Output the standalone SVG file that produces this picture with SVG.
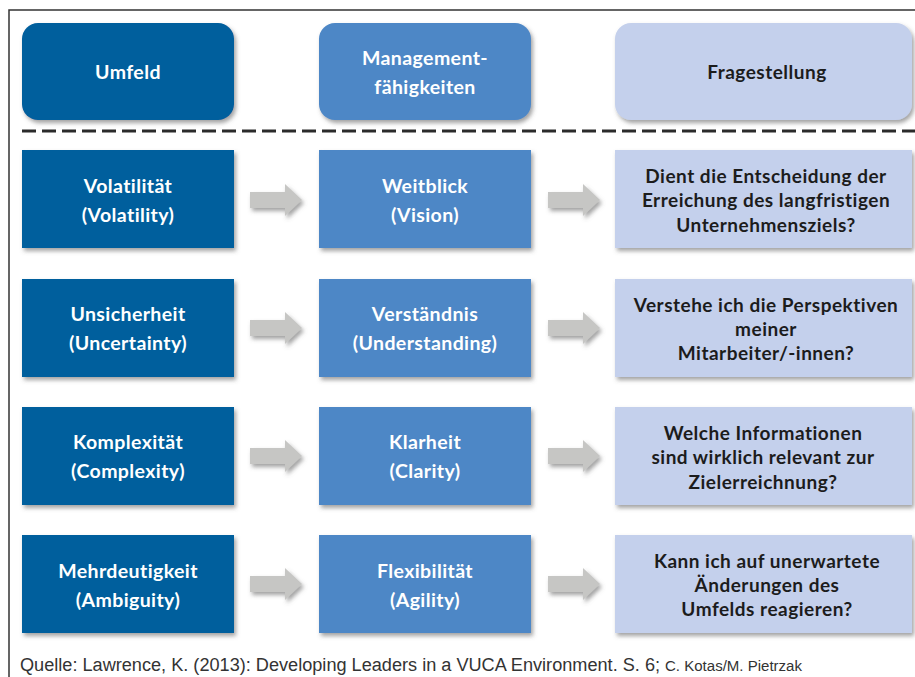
<svg xmlns="http://www.w3.org/2000/svg" width="915" height="677" viewBox="0 0 915 677">
  <defs>
    <filter id="shadow" x="-10%" y="-10%" width="125%" height="130%">
      <feDropShadow dx="2" dy="3" stdDeviation="2" flood-color="#555" flood-opacity="0.55"/>
    </filter>
    <filter id="arrowShadow" x="-20%" y="-20%" width="150%" height="160%">
      <feDropShadow dx="2" dy="3" stdDeviation="2" flood-color="#666" flood-opacity="0.6"/>
    </filter>
    <path id="arrow" d="M0,-8 H35 V-16 L52,0 L35,16 V8 H0 Z"/>
  </defs>
  <style>
    .dark { fill: #005f9d; }
    .mid { fill: #4d87c6; }
    .light { fill: #c4d0ec; }
    .box { filter: url(#shadow); }
    .t { font-family: Lato, "Open Sans", "Liberation Sans", sans-serif; font-weight: bold; text-anchor: middle; }
    .w { fill: #ffffff; font-size: 19.5px; letter-spacing: 0.4px; }
    .k { fill: #1c1c1c; font-size: 19px; letter-spacing: 0.5px; }
    .arr { fill: #c6c6c4; filter: url(#arrowShadow); }
    .frame { stroke: #333; stroke-width: 1.5; fill: none; }
    .sep { stroke: #2b2b2b; stroke-width: 3; stroke-dasharray: 14 6; }
    .src { font-family: "Liberation Sans", Arial, sans-serif; fill: #333; }
  </style>

  <rect width="915" height="677" fill="#ffffff"/>

  <!-- outer frame (top and left edges) -->
  <path class="frame" d="M9,677 V10 H915"/>

  <!-- column headers -->
  <g id="head-umfeld">
    <rect class="box dark" x="22" y="23" width="212" height="97" rx="16"/>
    <text class="t w" x="128" y="79">Umfeld</text>
  </g>
  <g id="head-management">
    <rect class="box mid" x="319" y="23" width="212" height="97" rx="16"/>
    <text class="t w" x="425" y="65">Management-</text>
    <text class="t w" x="425" y="94">fähigkeiten</text>
  </g>
  <g id="head-frage">
    <rect class="box light" x="615" y="23" width="297" height="97" rx="16"/>
    <text class="t k" x="767" y="79">Fragestellung</text>
  </g>

  <!-- separator -->
  <line class="sep" x1="22" y1="131" x2="915" y2="131"/>

  <!-- row 1 -->
  <g id="volatility">
    <rect class="box dark" x="22" y="150" width="212" height="98"/>
    <text class="t w" x="128" y="193">Volatilität</text>
    <text class="t w" x="128" y="222">(Volatility)</text>
  </g>
  <g id="vision">
    <rect class="box mid" x="319" y="150" width="212" height="98"/>
    <text class="t w" x="425" y="193">Weitblick</text>
    <text class="t w" x="425" y="222">(Vision)</text>
  </g>
  <g id="q-vision">
    <rect class="box light" x="615" y="150" width="297" height="98"/>
    <text class="t k" x="766" y="183">Dient die Entscheidung der</text>
    <text class="t k" x="766" y="207">Erreichung des langfristigen</text>
    <text class="t k" x="766" y="232">Unternehmensziels?</text>
  </g>

  <!-- row 2 -->
  <g id="uncertainty">
    <rect class="box dark" x="22" y="279" width="212" height="98"/>
    <text class="t w" x="128" y="321">Unsicherheit</text>
    <text class="t w" x="128" y="350">(Uncertainty)</text>
  </g>
  <g id="understanding">
    <rect class="box mid" x="319" y="279" width="212" height="98"/>
    <text class="t w" x="425" y="321">Verständnis</text>
    <text class="t w" x="425" y="350">(Understanding)</text>
  </g>
  <g id="q-understanding">
    <rect class="box light" x="615" y="279" width="297" height="98"/>
    <text class="t k" x="766" y="312">Verstehe ich die Perspektiven</text>
    <text class="t k" x="766" y="336">meiner</text>
    <text class="t k" x="766" y="360">Mitarbeiter/-innen?</text>
  </g>

  <!-- row 3 -->
  <g id="complexity">
    <rect class="box dark" x="22" y="407" width="212" height="98"/>
    <text class="t w" x="128" y="449">Komplexität</text>
    <text class="t w" x="128" y="478">(Complexity)</text>
  </g>
  <g id="clarity">
    <rect class="box mid" x="319" y="407" width="212" height="98"/>
    <text class="t w" x="425" y="449">Klarheit</text>
    <text class="t w" x="425" y="478">(Clarity)</text>
  </g>
  <g id="q-clarity">
    <rect class="box light" x="615" y="407" width="297" height="98"/>
    <text class="t k" x="763" y="440">Welche Informationen</text>
    <text class="t k" x="763" y="464">sind wirklich relevant zur</text>
    <text class="t k" x="763" y="489">Zielerreichnung?</text>
  </g>

  <!-- row 4 -->
  <g id="ambiguity">
    <rect class="box dark" x="22" y="535" width="212" height="98"/>
    <text class="t w" x="128" y="578">Mehrdeutigkeit</text>
    <text class="t w" x="128" y="607">(Ambiguity)</text>
  </g>
  <g id="agility">
    <rect class="box mid" x="319" y="535" width="212" height="98"/>
    <text class="t w" x="425" y="578">Flexibilität</text>
    <text class="t w" x="425" y="607">(Agility)</text>
  </g>
  <g id="q-agility">
    <rect class="box light" x="615" y="535" width="297" height="98"/>
    <text class="t k" x="767" y="568">Kann ich auf unerwartete</text>
    <text class="t k" x="767" y="592">Änderungen des</text>
    <text class="t k" x="767" y="616">Umfelds reagieren?</text>
  </g>

  <!-- connectors -->
  <g id="connectors">
    <use href="#arrow" class="arr" x="250" y="200"/>
    <use href="#arrow" class="arr" x="548" y="200"/>
    <use href="#arrow" class="arr" x="250" y="328"/>
    <use href="#arrow" class="arr" x="548" y="328"/>
    <use href="#arrow" class="arr" x="250" y="456"/>
    <use href="#arrow" class="arr" x="548" y="456"/>
    <use href="#arrow" class="arr" x="250" y="584"/>
    <use href="#arrow" class="arr" x="548" y="584"/>
  </g>

  <!-- source line -->
  <text class="src" x="20" y="671" font-size="18" textLength="640" lengthAdjust="spacingAndGlyphs">Quelle: Lawrence, K. (2013): Developing Leaders in a VUCA Environment. S. 6;</text>
  <text class="src" x="665" y="671" font-size="15.5" textLength="137" lengthAdjust="spacingAndGlyphs">C. Kotas/M. Pietrzak</text>
</svg>
